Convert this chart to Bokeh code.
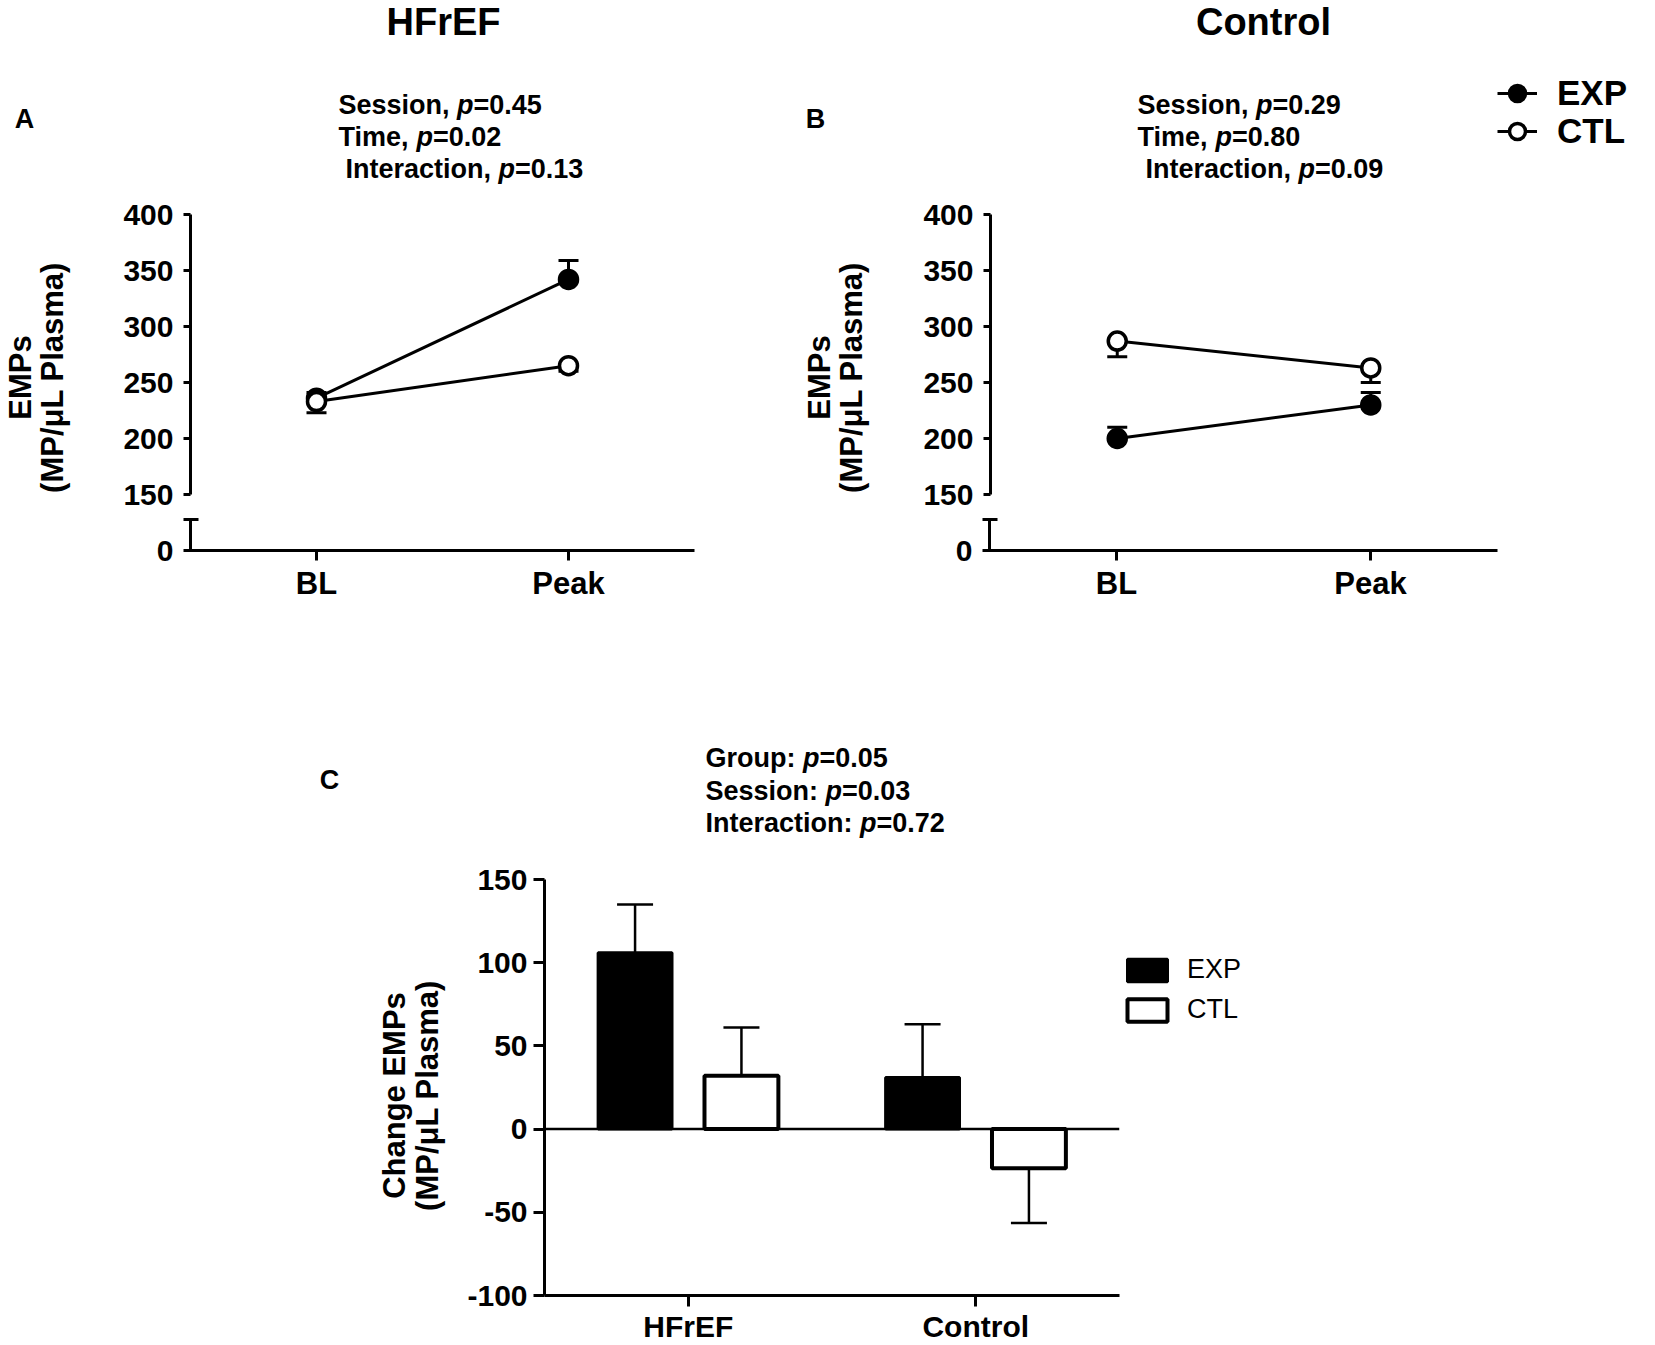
from math import pi

from bokeh.plotting import figure
from bokeh.models import (FactorRange, Range1d, FixedTicker, Label, Legend,
                          LegendItem, Span, ColumnDataSource)
from bokeh.transform import dodge
from bokeh.layouts import column, row
from bokeh.embed import file_html
from bokeh.resources import INLINE

# ---------------- data ----------------
timepoints = ["BL", "Peak"]

hfref_exp = [236, 342]
hfref_exp_err = [5, 17]
hfref_ctl = [233, 265]
hfref_ctl_err = [10, 5]

control_exp = [200, 230]
control_exp_err = [10, 11]
control_ctl = [287, 263]
control_ctl_err = [14, 13]

groups = ["HFrEF", "Control"]
change_exp = [106, 31]
change_exp_err = [29, 32]
change_ctl = [32, -23.5]
change_ctl_err = [29, 33]

series_names = ["EXP", "CTL"]
panel_titles = ["HFrEF", "Control"]
panel_letters = ["A", "B", "C"]

hfref_stats = [("Session, ", "0.45"), ("Time, ", "0.02"), ("Interaction, ", "0.13")]
control_stats = [("Session, ", "0.29"), ("Time, ", "0.80"), ("Interaction, ", "0.09")]
change_stats = [("Group: ", "0.05"), ("Session: ", "0.03"), ("Interaction: ", "0.72")]

ticks_top = [150, 200, 250, 300, 350, 400]
ticks_change = [-100, -50, 0, 50, 100, 150]

y_title_1 = "EMPs"
y_title_2 = "(MP/\u03bcL Plasma)"
c_title_1 = "Change EMPs"

# ---------------- styling helpers ----------------
FONT = "Liberation Sans"

# Arial / Liberation Sans Bold advance widths (1/1000 em)
W = {' ': 278, ',': 278, '.': 278, ':': 333, '=': 584, 'S': 667, 'e': 556,
     's': 556, 'i': 278, 'o': 611, 'n': 611, 'T': 611, 'm': 889, 'I': 278,
     't': 333, 'r': 389, 'a': 556, 'c': 556, 'G': 778, 'u': 611, 'p': 611}
for d in "0123456789":
    W[d] = 556


def tw(s, size):
    return sum(W.get(c, 556) for c in s) * size / 1000.0


def style_axis(ax, size, tick_out, standoff, tick_in=0):
    ax.axis_line_width = 3
    ax.axis_line_color = "black"
    ax.major_tick_line_width = 3
    ax.major_tick_line_color = "black"
    ax.major_tick_out = tick_out
    ax.major_tick_in = tick_in
    ax.minor_tick_line_color = None
    ax.major_label_text_font = FONT
    ax.major_label_text_font_style = "bold"
    ax.major_label_text_font_size = f"{size}px"
    ax.major_label_text_color = "black"
    ax.major_label_standoff = standoff


def make_fig(x0, y0, x1, y1, fl, ft, fr, fb, x_range, y_range, x_axis=True, y_axis=True):
    # canvas occupies page rect (x0,y0)-(x1,y1); frame occupies (fl,ft)-(fr,fb)
    p = figure(width=x1 - x0, height=y1 - y0, x_range=x_range, y_range=y_range,
               output_backend="svg", toolbar_location=None, title_location=None,
               x_axis_location="below" if x_axis else None,
               y_axis_location="left" if y_axis else None,
               min_border_left=fl - x0, min_border_right=x1 - fr,
               min_border_top=ft - y0, min_border_bottom=y1 - fb)
    p.outline_line_color = None
    p.grid.grid_line_color = None
    p.background_fill_color = "white"
    p.border_fill_color = "white"
    p._fl = fl
    p._fb = fb
    return p


def text_fig(x0, y0, x1, y1, ft=None, fb=None, x_range=None, y_range=None):
    # frames in one row share their top/bottom borders, so text panels use the
    # same frame band as the plot next to them
    ft = y0 if ft is None else ft
    fb = y1 if fb is None else fb
    return make_fig(x0, y0, x1, y1, x0, ft, x1, fb,
                    x_range if x_range is not None else Range1d(0, 1),
                    y_range if y_range is not None else Range1d(0, 1),
                    x_axis=False, y_axis=False)


def add_text(p, px, py, text, size, style="bold", align="left", angle=0.0):
    p.add_layout(Label(x=px - p._fl, y=p._fb - py, x_units="screen", y_units="screen",
                       text=text, text_font=FONT, text_font_size=f"{size}px",
                       text_font_style=style, text_align=align,
                       text_baseline="middle", angle=angle, text_color="black"))


def add_stat(p, px, py, prefix, val, size):
    add_text(p, px, py, prefix, size)
    x = px + tw(prefix, size)
    add_text(p, x, py, "p", size, style="bold italic")
    x += tw("p", size)
    add_text(p, x, py, "=" + val, size)


def add_legend(p, renderers, name, gx0, cy, gw, gh, standoff, size, style):
    leg = Legend(items=[LegendItem(label=name, renderers=renderers)],
                 location=(gx0 - p._fl, p._fb - (cy + gh / 2)),
                 glyph_width=gw, glyph_height=gh, label_standoff=standoff,
                 padding=0, margin=0, spacing=0, border_line_color=None,
                 background_fill_alpha=0, label_text_font=FONT,
                 label_text_color="black", label_text_font_style=style,
                 label_text_font_size=f"{size}px")
    p.add_layout(leg)


# ---------------- geometry (page px) ----------------
WIDTH, HEIGHT = 1655, 1345
A_L, A_R = 190, 694
B_L, B_R = 989, 1497
TOP_T, TOP_B = 214, 494
BOT_T, BOT_B = 519, 550
C_L, C_R, C_T, C_B = 544, 1119, 879, 1296

BAND1 = 193          # bottom of top text band
ROW1_B = 509         # bottom of top plot row
ROW2_B = 620         # bottom of broken-axis row
BAND3 = 855          # bottom of panel C text band
A_X0, A_X1 = 120, 800
B_X0, B_X1 = 920, WIDTH
C_X0, C_X1 = 460, 1122


def series_source(exp, exp_err, ctl, ctl_err):
    return ColumnDataSource(dict(
        t=timepoints, exp=exp, ctl=ctl,
        exp_end=[m + e for m, e in zip(exp, exp_err)],
        ctl_end=[m - e for m, e in zip(ctl, ctl_err)]))


def draw_series(p, src, key, fill, with_err=True):
    rs = []
    if with_err:
        p.segment(x0="t", y0=key, x1="t", y1=key + "_end", source=src,
                  line_width=3, line_color="black")
        p.scatter(x="t", y=key + "_end", source=src, marker="dash", size=20,
                  line_width=3, line_color="black")
    rs.append(p.line(x="t", y=key, source=src, line_width=3, line_color="black"))
    rs.append(p.scatter(x="t", y=key, source=src, size=18, marker="circle",
                        fill_color=fill, line_color="black", line_width=3.5))
    return rs


def line_panel(tx0, tx1, bx0, bx1, fl, fr, src):
    xr = FactorRange(factors=timepoints, range_padding=0)
    top = make_fig(tx0, BAND1, tx1, ROW1_B, fl, TOP_T, fr, TOP_B,
                   xr, Range1d(150, 400), x_axis=False)
    style_axis(top.yaxis[0], 30, 7, 10)
    top.yaxis[0].ticker = FixedTicker(ticks=ticks_top)
    draw_series(top, src, "exp", "black")
    draw_series(top, src, "ctl", "white")

    bot = make_fig(bx0, ROW1_B, bx1, ROW2_B, fl, BOT_T, fr, BOT_B,
                   xr, Range1d(0, 28), x_axis=True)
    style_axis(bot.yaxis[0], 30, 7, 10, tick_in=8)
    bot.yaxis[0].ticker = FixedTicker(ticks=[0, 28])
    bot.yaxis[0].major_label_overrides = {28: ""}
    style_axis(bot.xaxis[0], 31, 10, 5)
    return top, bot


srcA = series_source(hfref_exp, hfref_exp_err, hfref_ctl, hfref_ctl_err)
srcB = series_source(control_exp, control_exp_err, control_ctl, control_ctl_err)
pA, pA2 = line_panel(A_X0, A_X1, 0, 800, A_L, A_R, srcA)
pB, pB2 = line_panel(B_X0, B_X1, 800, WIDTH, B_L, B_R, srcB)

# ---------- top text band: titles, letters, statistics, legend ----------
tTop = text_fig(0, 0, WIDTH, BAND1,
                x_range=FactorRange(factors=timepoints), y_range=Range1d(150, 400))
add_text(tTop, 443, 21, panel_titles[0], 38, align="center")
add_text(tTop, 1263, 21, panel_titles[1], 38, align="center")
add_text(tTop, 24, 118, panel_letters[0], 27, align="center")
add_text(tTop, 815, 118, panel_letters[1], 27, align="center")
for i, (pre, val) in enumerate(hfref_stats):
    add_stat(tTop, 345 if i == 2 else 338, [104, 136, 168][i], pre, val, 27)
for i, (pre, val) in enumerate(control_stats):
    add_stat(tTop, 1145 if i == 2 else 1137, [104, 136, 168][i], pre, val, 27)

for name, key, fill, cy in ((series_names[0], "exp", "black", 93),
                            (series_names[1], "ctl", "white", 131)):
    rs = draw_series(tTop, srcB, key, fill, with_err=False)
    for r in rs:
        r.visible = False   # only used as legend swatches
    add_legend(tTop, rs, name, 1497, cy, 40, 50, 20, 35, "bold")

# ---------- y axis titles for A and B ----------
tAL = text_fig(0, BAND1, A_X0, ROW1_B, TOP_T, TOP_B)
add_text(tAL, 20, 377, y_title_1, 31, align="center", angle=pi / 2)
add_text(tAL, 52, 377, y_title_2, 31, align="center", angle=pi / 2)
tBL = text_fig(A_X1, BAND1, B_X0, ROW1_B, TOP_T, TOP_B)
add_text(tBL, 819, 377, y_title_1, 31, align="center", angle=pi / 2)
add_text(tBL, 851, 377, y_title_2, 31, align="center", angle=pi / 2)

# ---------------- panel C ----------------
tCtop = text_fig(0, ROW2_B, WIDTH, BAND3)
add_text(tCtop, 329, 779, panel_letters[2], 27, align="center")
for i, (pre, val) in enumerate(change_stats):
    add_stat(tCtop, 705, [757, 790, 822][i], pre, val, 27)

tCL = text_fig(0, BAND3, C_X0, HEIGHT, C_T, C_B)
add_text(tCL, 394, 1096, c_title_1, 31, align="center", angle=pi / 2)
add_text(tCL, 427, 1096, y_title_2, 31, align="center", angle=pi / 2)

pC = make_fig(C_X0, BAND3, C_X1, HEIGHT, C_L, C_T, C_R, C_B,
              FactorRange(factors=groups, range_padding=0), Range1d(-100, 150))
style_axis(pC.yaxis[0], 30, 11, 6)
pC.yaxis[0].ticker = FixedTicker(ticks=ticks_change)
pC.yaxis[0].major_label_overrides = {t: str(t) for t in ticks_change if t < 0}
style_axis(pC.xaxis[0], 30, 11, 3)

srcC = ColumnDataSource(dict(
    g=groups, exp=change_exp, ctl=change_ctl,
    exp_end=[m + (e if m >= 0 else -e) for m, e in zip(change_exp, change_exp_err)],
    ctl_end=[m + (e if m >= 0 else -e) for m, e in zip(change_ctl, change_ctl_err)]))

off = 0.185
bw = 0.257
bar_style = {"exp": ("black", 3), "ctl": ("white", 4)}


def draw_bars(p, key, o):
    fill, lw = bar_style[key]
    return p.vbar(x=dodge("g", o, range=p.x_range), top=key, bottom=0, width=bw,
                  source=srcC, fill_color=fill, line_color="black", line_width=lw)


for key, o in (("exp", -off), ("ctl", off)):
    draw_bars(pC, key, o)
    pC.segment(x0=dodge("g", o, range=pC.x_range), y0=key,
               x1=dodge("g", o, range=pC.x_range), y1=key + "_end",
               source=srcC, line_width=2.5, line_color="black")
    pC.scatter(x=dodge("g", o, range=pC.x_range), y=key + "_end", source=srcC,
               marker="dash", size=36, line_width=2.5, line_color="black")
pC.add_layout(Span(location=0, dimension="width", line_color="black", line_width=2.5))

tCR = text_fig(C_X1, BAND3, WIDTH, HEIGHT, C_T, C_B,
               x_range=FactorRange(factors=groups), y_range=Range1d(-100, 150))
for name, key, o, cy in ((series_names[0], "exp", -off, 972),
                         (series_names[1], "ctl", off, 1012)):
    r = draw_bars(tCR, key, o)
    r.visible = False   # only used as legend swatch
    add_legend(tCR, [r], name, 1122, cy, 50, 28, 15, 27, "normal")

layout = column(
    tTop,
    row(tAL, pA, tBL, pB),
    row(pA2, pB2),
    tCtop,
    row(tCL, pC, tCR),
)
open("out.html", "w").write(file_html(layout, INLINE))
